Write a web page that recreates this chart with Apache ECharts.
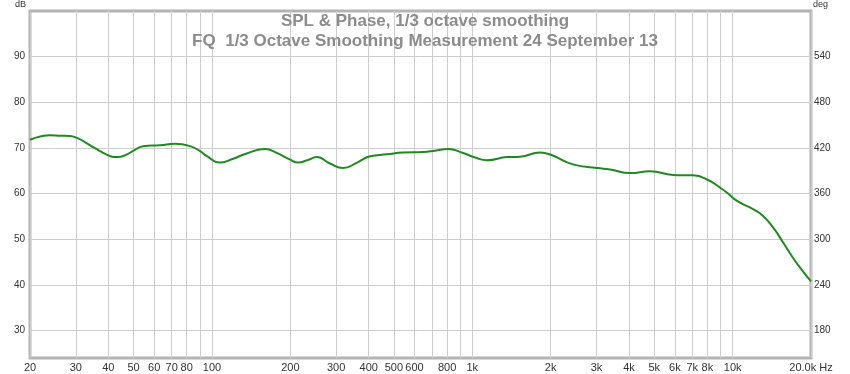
<!DOCTYPE html>
<html>
<head>
<meta charset="utf-8">
<script src="https://cdn.jsdelivr.net/npm/echarts@6/dist/echarts.min.js"></script>
<style>html,body{margin:0;padding:0;background:#fff}#c{width:850px;height:374px}</style>
</head>
<body>
<div id="c"></div>
<script>
// Frequencies (Hz) and SPL (dB)
const freqs = [20, 21.9, 23.9, 26.1, 28.5, 30.6, 33.1, 36.2, 39.2, 42.4, 44.7, 47.2, 50.6, 54.4, 63.2, 72.1, 82.4, 90, 95.7, 107, 120, 136, 160, 179, 199, 214, 232, 253, 284, 319, 361, 405, 470, 542, 647, 719, 807, 922, 1025, 1139, 1360, 1526, 1821, 2025, 2438, 3016, 3383, 4036, 4818, 5906, 7048, 7980, 8952, 9522, 10400, 11980, 13090, 14300, 15630, 17070, 18490, 20000];
const spl =   [71.8, 72.5, 72.8, 72.7, 72.6, 72.1, 71.0, 69.7, 68.6, 68.0, 68.1, 68.6, 69.6, 70.4, 70.6, 70.9, 70.4, 69.3, 68.2, 66.8, 67.6, 68.8, 69.8, 68.8, 67.5, 66.8, 67.3, 68.0, 66.6, 65.6, 66.8, 68.2, 68.6, 69.0, 69.1, 69.4, 69.8, 68.9, 67.9, 67.3, 68.0, 68.1, 69.0, 68.4, 66.4, 65.6, 65.3, 64.5, 64.9, 64.1, 64.0, 63.1, 61.3, 60.2, 58.4, 56.6, 55.1, 52.6, 49.3, 45.9, 43.2, 40.8];

const xGridValues = [20,30,40,50,60,70,80,90,100,200,300,400,500,600,700,800,900,1000,2000,3000,4000,5000,6000,7000,8000,9000,10000,20000];
const xLabelValues = [20,30,40,50,60,70,80,100,200,300,400,500,600,800,1000,2000,3000,4000,5000,6000,7000,8000,10000,20000];
const dbTicks = [30,40,50,60,70,80,90];
const degTicks = [180,240,300,360,420,480,540];

const titleLines = ['SPL & Phase, 1/3 octave smoothing', 'FQ  1/3 Octave Smoothing Measurement 24 September 13'];

const font = 'Liberation Sans, Arial, sans-serif';
const chart = echarts.init(document.getElementById('c'), null, {renderer: 'canvas'});
chart.setOption({
  animation: false,
  backgroundColor: '#fff',
  textStyle: {fontFamily: font},
  title: {
    text: titleLines.join('\n'),
    left: 'center', top: 6,
    textStyle: {fontFamily: font, fontSize: 17, fontWeight: 'bold', color: '#8c8c8c', lineHeight: 20}
  },
  grid: {left: 30, right: 39, top: 10, bottom: 16, show: true, borderColor: '#b4b4b4', borderWidth: 3, backgroundColor: 'transparent'},
  xAxis: {
    type: 'log', min: 20, max: 20000,
    axisLine: {show: false}, axisTick: {show: false, customValues: xGridValues},
    splitLine: {show: true, lineStyle: {color: '#cdcdcd', width: 1}},
    minorSplitLine: {show: false},
    axisLabel: {
      customValues: xLabelValues, hideOverlap: false, margin: 4,
      color: '#333', fontSize: 11, fontFamily: font,
      formatter: v => v === 20000 ? '20.0k Hz' : (v >= 1000 ? (v / 1000) + 'k' : String(v))
    }
  },
  yAxis: [{
    type: 'value', min: 24, max: 100, position: 'left',
    name: 'dB', nameLocation: 'end', nameGap: 2,
    nameTextStyle: {align: 'right', color: '#333', fontSize: 9, fontFamily: font, padding: [0, 4, 0, 0]},
    axisLine: {show: false}, axisTick: {show: false, customValues: dbTicks},
    splitLine: {show: true, lineStyle: {color: '#cdcdcd', width: 1}},
    axisLabel: {customValues: dbTicks, color: '#333', fontSize: 10, fontFamily: font, margin: 5}
  }, {
    type: 'value', min: 144, max: 600, position: 'right',
    name: 'deg', nameLocation: 'end', nameGap: 2,
    nameTextStyle: {align: 'left', color: '#333', fontSize: 9, fontFamily: font, padding: [0, 0, 0, 2]},
    axisLine: {show: false}, axisTick: {show: false, customValues: degTicks},
    splitLine: {show: false},
    axisLabel: {customValues: degTicks, color: '#333', fontSize: 10, fontFamily: font, margin: 3}
  }],
  series: [{
    type: 'line', xAxisIndex: 0, yAxisIndex: 0,
    data: freqs.map((f, i) => [f, spl[i]]),
    smooth: 0.5, showSymbol: false, symbol: 'none',
    lineStyle: {color: '#1f8a1f', width: 2}
  }]
});
</script>
</body>
</html>
